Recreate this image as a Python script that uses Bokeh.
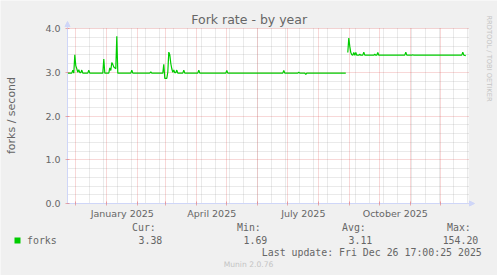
import math
import pandas as pd
from bokeh.plotting import figure
from bokeh.models import (Range1d, FixedTicker, Grid, Label, BoxAnnotation,
                          Arrow, NormalHead, PrintfTickFormatter)
from bokeh.embed import file_html
from bokeh.resources import INLINE

# ---------------- data ----------------
seg1_dates = ["2024-11-23", "2024-11-27", "2024-11-28", "2024-11-29", "2024-11-30",
              "2024-12-01", "2024-12-02", "2024-12-03", "2024-12-04", "2024-12-05",
              "2024-12-06", "2024-12-07", "2024-12-08", "2024-12-13", "2024-12-14",
              "2024-12-15", "2024-12-28", "2024-12-29", "2024-12-30", "2025-01-03",
              "2025-01-04", "2025-01-05", "2025-01-06", "2025-01-07", "2025-01-08",
              "2025-01-09", "2025-01-10", "2025-01-11", "2025-01-12", "2025-01-25",
              "2025-01-26", "2025-01-27", "2025-02-13", "2025-02-14", "2025-02-15",
              "2025-02-26", "2025-02-27", "2025-02-28", "2025-03-02", "2025-03-03",
              "2025-03-04", "2025-03-05", "2025-03-06", "2025-03-07", "2025-03-08",
              "2025-03-09", "2025-03-10", "2025-03-11", "2025-03-12", "2025-03-13",
              "2025-03-18", "2025-03-19", "2025-03-20", "2025-04-02", "2025-04-03",
              "2025-04-04", "2025-04-30", "2025-05-01", "2025-05-02", "2025-06-26",
              "2025-06-27", "2025-06-28", "2025-07-11", "2025-07-12", "2025-07-13",
              "2025-07-18", "2025-07-19", "2025-07-20", "2025-08-28"]
seg1_values = [2.98, 2.98, 3.05, 2.98, 3.40,
               3.15, 3.08, 3.00, 3.06, 2.99,
               2.99, 3.05, 2.98, 2.98, 3.05,
               2.98, 2.98, 3.30, 2.98, 2.98,
               3.10, 3.04, 3.22, 3.18, 3.12,
               3.10, 3.08, 3.82, 2.98, 2.98,
               3.05, 2.98, 2.98, 3.01, 2.98,
               2.98, 3.18, 2.86, 2.86, 3.00,
               3.46, 3.40, 3.20, 3.08, 3.00,
               3.05, 2.99, 2.99, 3.05, 2.98,
               2.98, 3.05, 2.98, 2.98, 3.05,
               2.98, 2.98, 3.04, 2.98, 2.98,
               3.04, 2.98, 2.98, 3.00, 2.98,
               2.98, 2.95, 2.98, 2.98]

seg2_dates = ["2025-08-30", "2025-08-31", "2025-09-01", "2025-09-02", "2025-09-03",
              "2025-09-04", "2025-09-05", "2025-09-06", "2025-09-07", "2025-09-08",
              "2025-09-10", "2025-09-11", "2025-09-12", "2025-09-14", "2025-09-15",
              "2025-09-16", "2025-09-25", "2025-09-26", "2025-09-27", "2025-09-28",
              "2025-09-29", "2025-09-30", "2025-10-26", "2025-10-27", "2025-10-28",
              "2025-11-02", "2025-11-03", "2025-11-04", "2025-12-22", "2025-12-23",
              "2025-12-24", "2025-12-26"]
seg2_values = [3.45, 3.78, 3.59, 3.45, 3.40,
               3.39, 3.45, 3.39, 3.45, 3.39,
               3.39, 3.41, 3.39, 3.39, 3.46,
               3.39, 3.39, 3.41, 3.39, 3.39,
               3.45, 3.39, 3.39, 3.46, 3.39,
               3.39, 3.40, 3.39, 3.39, 3.46,
               3.39, 3.38]

label_months = ["2025-01-01", "2025-04-01", "2025-07-01", "2025-10-01"]
label_texts = ["January 2025", "April 2025", "July 2025", "October 2025"]
y_ticks = [0, 1, 2, 3, 4]

series_name = "forks"
stat_names = ["Cur:", "Min:", "Avg:", "Max:"]
stat_values = [3.38, 1.69, 3.11, 154.20]
title_text = "Fork rate - by year"
y_label = "forks / second"
last_update = "Last update: Fri Dec 26 17:00:25 2025"
watermark = "Munin 2.0.76"
side_text = "RRDTOOL / TOBI OETIKER"

# ---------------- layout / style ----------------
W, H = 497, 275
L, R, T, B = 67, 29, 28, 72          # pixel margins of the data area
FW, FH = W - L - R, H - T - B
FONT = "DejaVu Sans"
MONO = "DejaVu Sans Mono"
FONT_COLOR = "#666666"
AXIS_COLOR = "#CFD6F8"
GRID_COLOR, GRID_ALPHA = "#8F8F8F", 0.38
MGRID_COLOR, MGRID_ALPHA = "#DE5050", 0.45
LINE_COLOR = "#00CC00"
Y_MIN, Y_MAX = 0.0, 4.0


def ms(ts):
    return int(pd.Timestamp(ts).value // 10**6)


x_start = pd.Timestamp("2024-11-22 17:00")
x_end = pd.Timestamp("2025-12-28 17:00")
ms_per_px = (ms(x_end) - ms(x_start)) / FW
u_per_px = (Y_MAX - Y_MIN) / FH

# the frame covers the whole canvas; the data area is placed by the ranges
p = figure(width=W, height=H, x_axis_type="datetime", title=None,
           x_range=Range1d(ms(x_start) - L * ms_per_px, ms(x_end) + R * ms_per_px),
           y_range=Range1d(Y_MIN - B * u_per_px, Y_MAX + T * u_per_px),
           output_backend="svg", toolbar_location=None,
           min_border=0, background_fill_color="#f0f0f0", border_fill_color="#f0f0f0",
           outline_line_color=None)
p.grid.visible = False

# white canvas of the data area
p.add_layout(BoxAnnotation(left=ms(x_start), right=ms(x_end), bottom=Y_MIN, top=Y_MAX,
                           fill_color="white", fill_alpha=1.0, line_color=None,
                           level="underlay"))

month_starts = pd.date_range("2024-12-01", "2025-12-01", freq="MS")
major_x = [ms(d) for d in month_starts]
mid_ticks = []
for m in label_months:
    a = pd.Timestamp(m)
    b = a + pd.offsets.MonthBegin(1)
    mid_ticks.append((ms(a) + ms(b)) // 2)
minor_x = [ms(d) for d in pd.date_range("2024-12-15", x_end, freq="14D")]
minor_y = [i / 5 for i in range(1, 20) if i % 5 != 0]

xb = (ms(x_start), ms(x_end))
yb = (Y_MIN, Y_MAX)
HAS_CROSS = "cross_bounds" in Grid.properties()


def grid(dim, ticks, color, alpha):
    if HAS_CROSS:
        p.add_layout(Grid(dimension=dim, ticker=FixedTicker(ticks=ticks),
                          cross_bounds=(yb if dim == 0 else xb),
                          grid_line_color=color, grid_line_alpha=alpha, grid_line_dash="1 1"))
    else:
        if dim == 0:
            p.segment(x0=ticks, x1=ticks, y0=Y_MIN, y1=Y_MAX, line_color=color,
                      line_alpha=alpha, line_dash="1 1", line_width=1)
        else:
            p.segment(x0=xb[0], x1=xb[1], y0=ticks, y1=ticks, line_color=color,
                      line_alpha=alpha, line_dash="1 1", line_width=1)


grid(0, minor_x, GRID_COLOR, GRID_ALPHA)
grid(1, minor_y, GRID_COLOR, GRID_ALPHA)
grid(0, major_x, MGRID_COLOR, MGRID_ALPHA)
grid(1, y_ticks, MGRID_COLOR, MGRID_ALPHA)

# x axis, drawn at y = 0
xa = p.xaxis[0]
xa.fixed_location = Y_MIN
xa.bounds = xb
xa.ticker = FixedTicker(ticks=mid_ticks, minor_ticks=major_x)
xa.major_label_overrides = {t: s for t, s in zip(mid_ticks, label_texts)}
xa.axis_line_color = AXIS_COLOR
xa.major_tick_line_color = None
xa.major_tick_out = 2
xa.major_tick_in = 0
xa.minor_tick_line_color = MGRID_COLOR
xa.minor_tick_line_alpha = MGRID_ALPHA
xa.minor_tick_out = 2
xa.minor_tick_in = 2
xa.major_label_standoff = 2
xa.major_label_text_font = FONT
xa.major_label_text_font_size = "9.5px"
xa.major_label_text_color = FONT_COLOR

# y axis, drawn at the start of the time range
ya = p.yaxis[0]
ya.fixed_location = ms(x_start)
ya.bounds = yb
ya.ticker = FixedTicker(ticks=y_ticks, minor_ticks=[])
ya.formatter = PrintfTickFormatter(format="%.1f")
ya.axis_line_color = AXIS_COLOR
ya.major_tick_line_color = MGRID_COLOR
ya.major_tick_line_alpha = MGRID_ALPHA
ya.major_tick_out = 2
ya.major_tick_in = 2
ya.minor_tick_line_color = None
ya.major_label_standoff = 5
ya.major_label_text_font = FONT
ya.major_label_text_font_size = "9.5px"
ya.major_label_text_color = FONT_COLOR

# data lines
p.line(pd.to_datetime(seg1_dates), seg1_values, line_color=LINE_COLOR, line_width=1.2)
p.line(pd.to_datetime(seg2_dates), seg2_values, line_color=LINE_COLOR, line_width=1.2)

# axis arrows
head = dict(size=5, fill_color=AXIS_COLOR, line_color=AXIS_COLOR)
p.add_layout(Arrow(end=NormalHead(**head), x_start=ms(x_start), y_start=Y_MAX,
                   x_end=ms(x_start), y_end=Y_MAX + 7 * u_per_px, line_color=AXIS_COLOR))
p.add_layout(Arrow(end=NormalHead(**head), x_start=ms(x_end), y_start=Y_MIN,
                   x_end=ms(x_end) + 6 * ms_per_px, y_end=Y_MIN, line_color=AXIS_COLOR))


# texts, positioned in canvas pixels (from the top-left corner)
def label(text, cx, cy, font=FONT, size="9.5px", color=FONT_COLOR, align="left", angle=0.0):
    p.add_layout(Label(x=cx, y=H - cy, x_units="screen", y_units="screen", text=text,
                       text_font=font, text_font_size=size, text_color=color,
                       text_align=align, text_baseline="middle", angle=angle))


label(title_text, 248.7, 19, size="12.5px", align="center")
label(y_label, 10.5, 115, size="11px", align="center", angle=math.pi / 2)
label(side_text, 488, 58, size="6.7px", color="#C4C4C4", align="center", angle=-math.pi / 2)

# legend block
p.add_layout(BoxAnnotation(left=14, right=20, top=H - 237, bottom=H - 243,
                           left_units="screen", right_units="screen",
                           top_units="screen", bottom_units="screen",
                           fill_color=LINE_COLOR, fill_alpha=1.0, line_color=None))
label(series_name, 26.5, 239.7, font=MONO, size="9.9px")
col_x = [131.5, 236.5, 341.5, 446.5]
val_right = [161.8, 266.8, 371.8, 477.8]
for name, v, cx, rx in zip(stat_names, stat_values, col_x, val_right):
    label(name, cx, 227.3, font=MONO, size="9.9px")
    label("%.2f" % v, rx, 239.7, font=MONO, size="9.9px", align="right")
label(last_update, 261.3, 251.7, font=MONO, size="9.9px")
label(watermark, 248, 264, size="7.6px", color="#C4C4C4", align="center")

open("out.html", "w").write(file_html(p, INLINE))
